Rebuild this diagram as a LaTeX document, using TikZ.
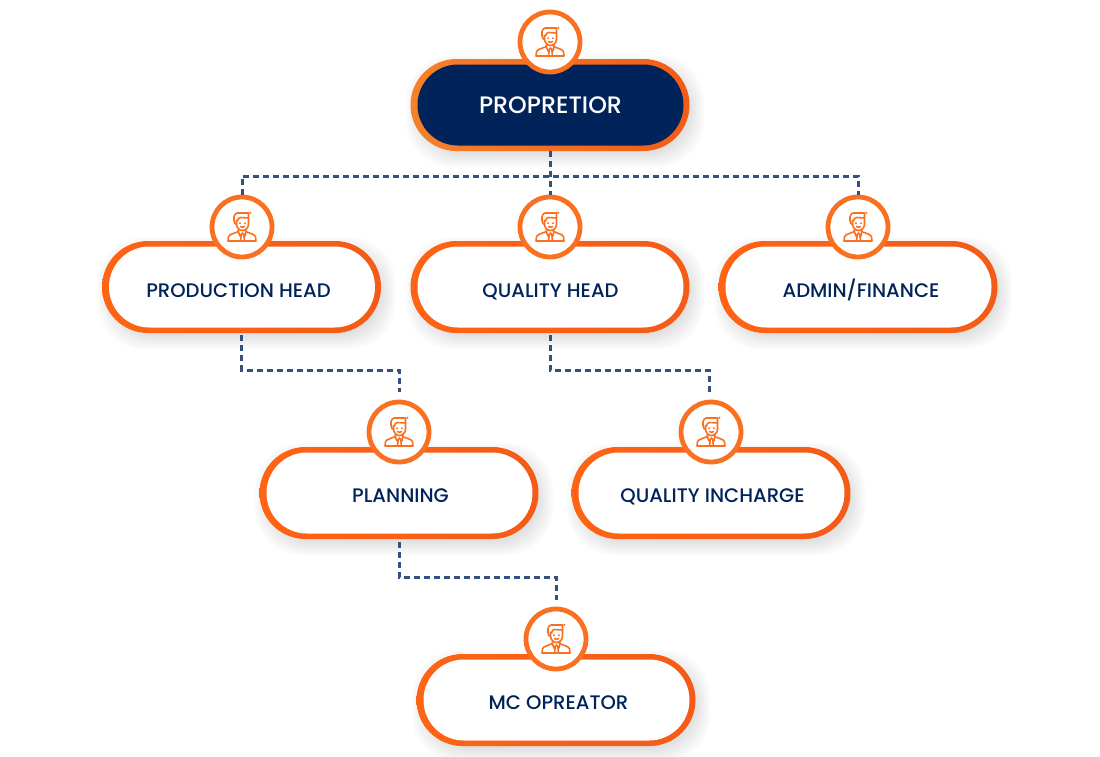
\documentclass[tikz,border=0pt]{standalone}
\usepackage{fontspec}
\setmainfont{Poppins}
\newfontfamily\headfont{Poppins Medium}
\usetikzlibrary{shapes.misc}
\definecolor{navy}{HTML}{00235A}
\definecolor{ringorange}{HTML}{F97020}
\definecolor{pillleft}{HTML}{FF6314}
\definecolor{pillright}{HTML}{F35B17}
\definecolor{topleft}{HTML}{F5812B}
\definecolor{dashblue}{HTML}{34507F}
\tikzset{
  pill/.style={rounded rectangle,left color=pillleft,right color=pillright,
    minimum width=279pt,minimum height=92pt,inner sep=0pt,outer sep=0pt},
  toppill/.style={pill,left color=topleft,right color=pillright},
  pillcore/.style={rounded rectangle,fill=white,minimum width=266pt,minimum height=81pt,
    inner sep=0pt,outer sep=0pt},
  topcore/.style={pillcore,fill=navy},
  ring/.style={circle,draw=ringorange,line width=4.8pt,fill=white,minimum size=60pt,inner sep=0pt},
  headtext/.style={text=navy,font=\headfont\fontsize{19.6}{22}\selectfont,inner sep=0pt,anchor=base},
  toptext/.style={text=white,font=\headfont\fontsize{23.8}{26}\selectfont,inner sep=0pt,anchor=base},
  link/.style={draw=dashblue,line width=3pt,dash pattern=on 6pt off 4pt},
  person/.pic={
    \begin{scope}[draw=ringorange,line width=1.6pt,line join=round,line cap=round]
    % hair and face
    \draw (-5.5,-2.5) -- (-7,-3.5) .. controls (-9,-7) and (-8.5,-13.5) .. (-5,-14) -- (6,-14)
      (8.5,-14.5) -- (8.5,-14) (6.5,-14) -- (6.5,-3);
    \draw (6.5,-9) -- (-1.5,-9.5) .. controls (-3.5,-9) and (-4,-8) .. (-4.5,-6);
    \draw (-5.5,-6.5) -- (-5.5,-3) .. controls (-5.5,1) and (-2,3.5) .. (0.5,3.5)
      .. controls (3.5,3.5) and (6.5,1) .. (6.5,-3);
    \draw (-1.5,-0.5) .. controls (-0.5,0.7) and (1.5,0.7) .. (2.5,-0.5);
    \draw (-2,-4) -- (-2,-3.6) (3,-4) -- (3,-3.6);
    % shoulders and tie
    \draw (-3.5,2.5) -- (-3.5,4.5) -- (-10,7) .. controls (-13.5,8) and (-14.5,11) .. (-14,14)
      -- (14,14) .. controls (14.5,11) and (13.5,8) .. (10,7) -- (3.5,4.5) -- (3.5,2.5);
    \draw (-4,4) -- (-2,9) -- (0.5,6) -- (3,9) -- (4,4);
    \draw (-1.5,14) -- (-0.8,8) (2.5,14) -- (1.8,8);
    \end{scope}
  }
}
\begin{document}
\begin{tikzpicture}[x=1pt,y=-1pt]
\useasboundingbox (0,0) rectangle (1100,756);
% soft shadows under the pills
\foreach \px/\py in {550/105,241.5/287,550/287,858/287,399/493,711/493,556/700}
  \foreach \grow in {-4,-2,...,11}
    \fill[black,opacity=0.016,rounded corners=46pt]
      (\px-139-\grow+5,\py-46-\grow+6) rectangle (\px+139+\grow+5,\py+46+\grow+6);
% pills
\node[toppill] (proprietor) at (550,105) {};
\node[topcore] (proprietorcore) at (550.5,105) {};
\node[pill] (prodhead) at (241.5,287) {};
\node[pillcore] (prodheadcore) at (242,287) {};
\node[pill] (qualhead) at (550,287) {};
\node[pillcore] (qualheadcore) at (550.5,287) {};
\node[pill] (admin) at (858,287) {};
\node[pillcore] (admincore) at (858.5,287) {};
\node[pill] (planning) at (399,493) {};
\node[pillcore] (planningcore) at (399.5,493) {};
\node[pill] (qualinch) at (711,493) {};
\node[pillcore] (qualinchcore) at (711.5,493) {};
\node[pill] (mcop) at (556,700) {};
\node[pillcore] (mcopcore) at (556.5,700) {};
% labels
\node[toptext] (proprietortext) at (550.5,113) {PROPRETIOR};
\node[headtext] (prodheadtext) at (238.5,297) {PRODUCTION HEAD};
\node[headtext] (qualheadtext) at (550.5,297) {QUALITY HEAD};
\node[headtext] (admintext) at (861,297) {ADMIN/FINANCE};
\node[headtext] (planningtext) at (400.5,502) {PLANNING};
\node[headtext] (qualinchtext) at (712.5,502) {QUALITY INCHARGE};
\node[headtext] (mcoptext) at (558.5,709) {MC OPREATOR};
% rings with the person icon
\foreach \name/\px/\py in {top/550/42,prod/242/227,qual/550/227,adm/858/227,plan/399/432,inch/711/432,mc/556/639}{
  \node[ring] (ring\name) at (\px,\py) {};
  \pic at (\px,\py) {person};
}
% helper points on the dashed runs
\coordinate (bus) at (550,176);
\coordinate (prodturn) at (320,370);
\coordinate (qualturn) at (630,370);
\coordinate (planturn) at (477,577);
\coordinate (planstop) at (399,392);
\coordinate (inchstop) at (709,392);
\coordinate (mcstop) at (556,600);
% connectors
\draw[link] (proprietor.south) -- (ringqual.north);
\draw[link] (ringprod.north) |- (bus) -| (ringadm.north);
\draw[link,shorten <=2pt] (prodhead.south) |- (prodturn) -| (planstop);
\draw[link,shorten <=2pt] (qualhead.south) |- (qualturn) -| (inchstop);
\draw[link,shorten <=3pt] (planning.south) |- (planturn) -| (mcstop);
\end{tikzpicture}
\end{document}
